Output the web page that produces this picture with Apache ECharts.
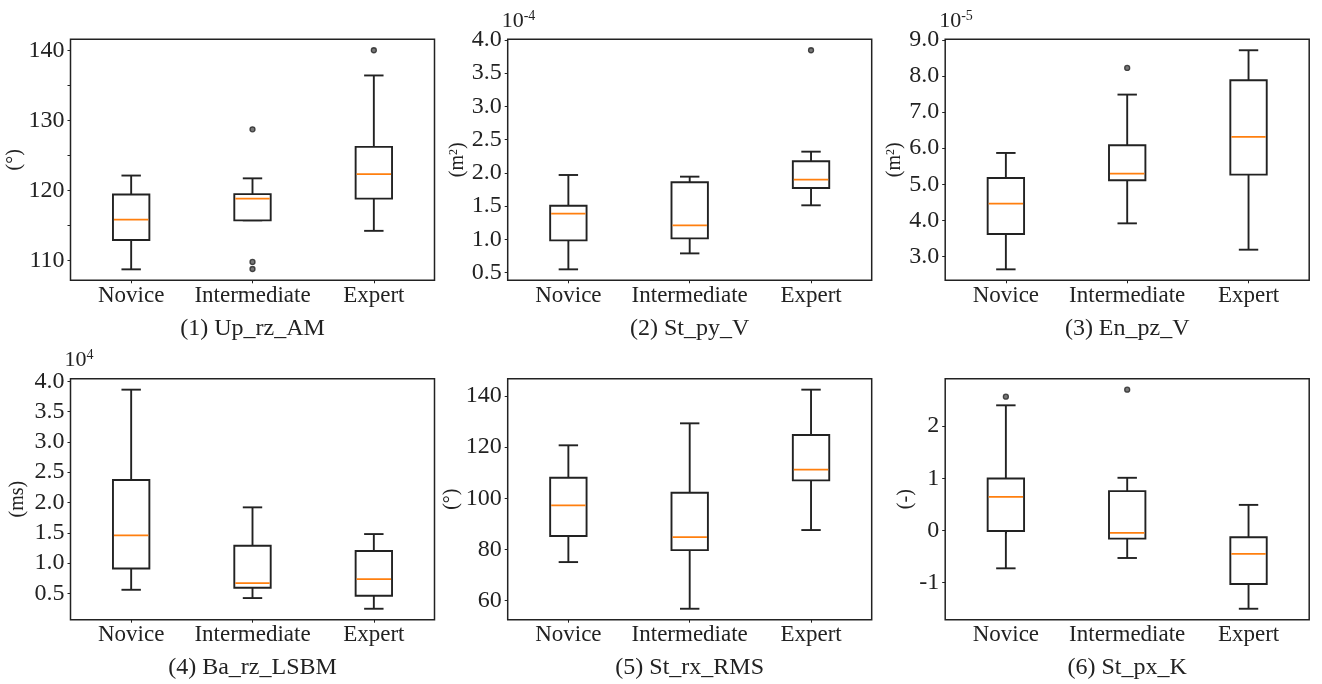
<!DOCTYPE html>
<html>
<head>
<meta charset="utf-8">
<script src="https://cdn.jsdelivr.net/npm/echarts@6/dist/echarts.min.js"></script>
<style>
  html, body { margin: 0; padding: 0; background: #fff; }
  #chart { width: 1322px; height: 684px; }
</style>
</head>
<body>
<div id="chart"></div>
<script>
// categorias comunes
const categorias = ['Novice', 'Intermediate', 'Expert'];

// cada caja: [bigote inferior, Q1, mediana, Q3, bigote superior]
const upRzAM = [[108.7, 112.9, 115.8, 119.4, 122.1], [115.7, 115.7, 118.8, 119.45, 121.7], [114.2, 118.8, 122.3, 126.2, 136.4]];
const upRzAMAtipicos = [['Intermediate', 128.7], ['Intermediate', 109.76], ['Intermediate', 108.75], ['Expert', 140.0]];
const upRzAMTicks = [110, 115, 120, 125, 130, 135, 140];
const upRzAMEtiquetas = [110, 120, 130, 140];

const stPyV = [[0.55, 0.986, 1.387, 1.507, 1.969], [0.79, 1.016, 1.212, 1.859, 1.944], [1.513, 1.773, 1.899, 2.175, 2.32]];
const stPyVAtipicos = [['Expert', 3.845]];
const stPyVEtiquetas = [0.5, 1.0, 1.5, 2.0, 2.5, 3.0, 3.5, 4.0];

const enPzV = [[2.64, 3.62, 4.461, 5.173, 5.866], [3.915, 5.108, 5.293, 6.079, 7.484], [3.185, 5.265, 6.31, 7.881, 8.713]];
const enPzVAtipicos = [['Intermediate', 8.223]];
const enPzVEtiquetas = [3.0, 4.0, 5.0, 6.0, 7.0, 8.0, 9.0];

const baRzLSBM = [[0.56, 0.912, 1.457, 2.371, 3.862], [0.423, 0.593, 0.67, 1.287, 1.92], [0.247, 0.461, 0.736, 1.199, 1.479]];
const baRzLSBMAtipicos = [];
const baRzLSBMEtiquetas = [0.5, 1.0, 1.5, 2.0, 2.5, 3.0, 3.5, 4.0];

const stRxRMS = [[75.0, 85.2, 97.2, 108.0, 120.7], [56.74, 79.7, 84.8, 102.15, 129.3], [87.54, 106.98, 111.16, 124.73, 142.48]];
const stRxRMSAtipicos = [];
const stRxRMSEtiquetas = [60, 80, 100, 120, 140];

const stPxK = [[-0.725, -0.009, 0.644, 0.996, 2.397], [-0.527, -0.156, -0.047, 0.753, 1.009], [-1.499, -1.026, -0.45, -0.13, 0.49]];
const stPxKAtipicos = [['Novice', 2.563], ['Intermediate', 2.697]];
const stPxKEtiquetas = [-1, 0, 1, 2];

const paneles = [
  { titulo: '(1) Up_rz_AM', unidad: '(°)', cajas: upRzAM, atipicos: upRzAMAtipicos, ticks: upRzAMTicks, etiquetas: upRzAMEtiquetas, decimales: 0, exponente: null, gapNombre: 38 },
  { titulo: '(2) St_py_V', unidad: '(m{s|2})', cajas: stPyV, atipicos: stPyVAtipicos, ticks: stPyVEtiquetas, etiquetas: stPyVEtiquetas, decimales: 1, exponente: '-4', gapNombre: 40 },
  { titulo: '(3) En_pz_V', unidad: '(m{s|2})', cajas: enPzV, atipicos: enPzVAtipicos, ticks: enPzVEtiquetas, etiquetas: enPzVEtiquetas, decimales: 1, exponente: '-5', gapNombre: 40 },
  { titulo: '(4) Ba_rz_LSBM', unidad: '(ms)', cajas: baRzLSBM, atipicos: baRzLSBMAtipicos, ticks: baRzLSBMEtiquetas, etiquetas: baRzLSBMEtiquetas, decimales: 1, exponente: '4', gapNombre: 43 },
  { titulo: '(5) St_rx_RMS', unidad: '(°)', cajas: stRxRMS, atipicos: stRxRMSAtipicos, ticks: stRxRMSEtiquetas, etiquetas: stRxRMSEtiquetas, decimales: 0, exponente: null, gapNombre: 33 },
  { titulo: '(6) St_px_K', unidad: '(-)', cajas: stPxK, atipicos: stPxKAtipicos, ticks: stPxKEtiquetas, etiquetas: stPxKEtiquetas, decimales: 0, exponente: null, gapNombre: 25 }
];

const fuente = "'Liberation Serif', 'Times New Roman', serif";
const colorTexto = '#222';
const izquierdas = [70.5, 507.7, 945.2];
const arribas = [39.3, 378.7];
const anchoGrid = 364;
const altoGrid = 241;

// rango como matplotlib: extremos de los datos con 5% de margen
const calcularRango = (panel) => {
  let valores = [];
  panel.cajas.forEach(c => valores.push(c[0], c[4]));
  panel.atipicos.forEach(a => valores.push(a[1]));
  const lo = Math.min(...valores);
  const hi = Math.max(...valores);
  const margen = (hi - lo) * 0.05;
  return [lo - margen, hi + margen];
};

const dibujarCaja = (params, api) => {
  const x = api.value(0);
  const bajo = api.coord([x, api.value(1)]);
  const q1 = api.coord([x, api.value(2)]);
  const med = api.coord([x, api.value(3)]);
  const q3 = api.coord([x, api.value(4)]);
  const alto = api.coord([x, api.value(5)]);
  const anchoCat = api.size([1, 0])[0];
  const anchoCaja = anchoCat * 0.3;
  const anchoTope = anchoCat * 0.16;
  const cx = bajo[0];
  const trazo = { stroke: '#222', lineWidth: 1.9, fill: null };
  return {
    type: 'group',
    children: [
      { type: 'line', shape: { x1: cx, y1: alto[1], x2: cx, y2: q3[1] }, style: trazo },
      { type: 'line', shape: { x1: cx, y1: q1[1], x2: cx, y2: bajo[1] }, style: trazo },
      { type: 'line', shape: { x1: cx - anchoTope / 2, y1: alto[1], x2: cx + anchoTope / 2, y2: alto[1] }, style: trazo },
      { type: 'line', shape: { x1: cx - anchoTope / 2, y1: bajo[1], x2: cx + anchoTope / 2, y2: bajo[1] }, style: trazo },
      { type: 'rect', shape: { x: cx - anchoCaja / 2, y: q3[1], width: anchoCaja, height: q1[1] - q3[1] }, style: { fill: '#fff', stroke: '#222', lineWidth: 1.9 } },
      { type: 'line', shape: { x1: cx - anchoCaja / 2 + 1, y1: med[1], x2: cx + anchoCaja / 2 - 1, y2: med[1] }, style: { stroke: '#ff7f0e', lineWidth: 1.8 } }
    ]
  };
};

const grids = [], xAxes = [], yAxes = [], series = [], titulos = [];

paneles.forEach((p, i) => {
  const izq = izquierdas[i % 3];
  const arr = arribas[Math.floor(i / 3)];
  const rango = calcularRango(p);
  grids.push({ left: izq, top: arr, width: anchoGrid, height: altoGrid, show: true, borderColor: '#222', borderWidth: 1.5, backgroundColor: 'transparent' });
  xAxes.push({
    type: 'category', gridIndex: i, data: categorias,
    axisLine: { show: false },
    axisTick: { show: true, alignWithLabel: true, length: 3, lineStyle: { color: '#222' } },
    axisLabel: { fontFamily: fuente, fontSize: 23, color: colorTexto, margin: 4, interval: 0, hideOverlap: false },
    name: p.titulo, nameLocation: 'middle', nameGap: 36,
    nameTextStyle: { fontFamily: fuente, fontSize: 24, color: colorTexto },
    splitLine: { show: false }
  });
  yAxes.push({
    type: 'value', gridIndex: i, min: rango[0], max: rango[1],
    axisLine: { show: false },
    axisTick: { show: true, length: 3, customValues: p.ticks, lineStyle: { color: '#222' } },
    axisLabel: {
      fontFamily: fuente, fontSize: 24, color: colorTexto, margin: 6,
      customValues: p.etiquetas, hideOverlap: false,
      formatter: v => Number(v).toFixed(p.decimales)
    },
    splitLine: { show: false },
    name: p.unidad, nameLocation: 'middle', nameGap: p.gapNombre,
    nameTextStyle: {
      fontFamily: fuente, fontSize: 20, color: colorTexto,
      rich: { s: { fontFamily: fuente, fontSize: 12, color: colorTexto, verticalAlign: 'top', padding: [0, 0, 8, 0] } }
    }
  });
  series.push({
    type: 'custom', xAxisIndex: i, yAxisIndex: i,
    renderItem: dibujarCaja,
    encode: { x: 0, y: [1, 2, 3, 4, 5] },
    data: p.cajas.map((c, k) => [k].concat(c)),
    silent: true
  });
  if (p.atipicos.length) {
    series.push({
      type: 'scatter', xAxisIndex: i, yAxisIndex: i,
      data: p.atipicos, symbol: 'circle', symbolSize: 5,
      itemStyle: { color: '#555', borderColor: '#222', borderWidth: 1.3 },
      silent: true
    });
  }
  if (p.exponente) {
    titulos.push({
      text: '{b|10}{s|' + p.exponente + '}',
      left: izq - 6, top: arr - 30, padding: 0,
      textStyle: {
        fontWeight: 'normal',
        rich: {
          b: { fontFamily: fuente, fontSize: 22, fontWeight: 'normal', color: colorTexto },
          s: { fontFamily: fuente, fontSize: 14, fontWeight: 'normal', color: colorTexto, verticalAlign: 'top', padding: [0, 0, 10, 0] }
        }
      }
    });
  }
});

const chart = echarts.init(document.getElementById('chart'));
chart.setOption({
  animation: false,
  backgroundColor: '#fff',
  title: titulos,
  grid: grids,
  xAxis: xAxes,
  yAxis: yAxes,
  series: series
});
</script>
</body>
</html>
